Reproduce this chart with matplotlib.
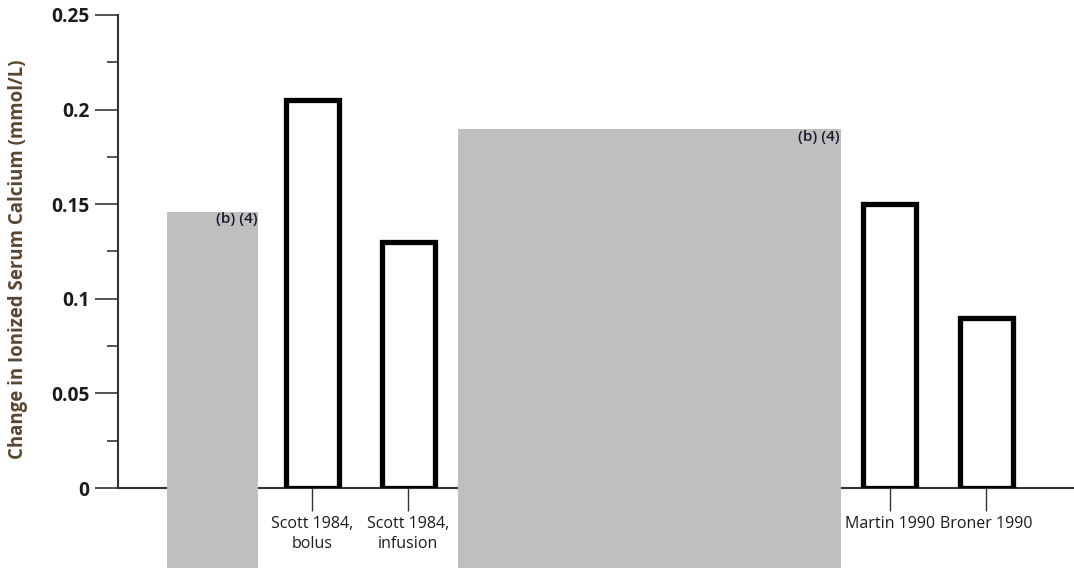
import matplotlib
matplotlib.use("Agg")
import matplotlib.pyplot as plt
from matplotlib.patches import Rectangle
import numpy as np

plt.rcParams['font.family'] = ['Open Sans', 'DejaVu Sans']

# ---- data ----
categories = ["", "Scott 1984,\nbolus", "Scott 1984,\ninfusion", "", "", "", "",
              "Martin 1990", "Broner 1990"]
values = [None, 0.205, 0.13, None, None, None, None, 0.15, 0.09]
y_ticks = [0, 0.05, 0.1, 0.15, 0.2, 0.25]
y_tick_labels = ["0", "0.05", "0.1", "0.15", "0.2", "0.25"]
y_label = "Change in Ionized Serum Calcium (mmol/L)"
redaction_text = "(b) (4)"

W, H = 1074, 571
fig = plt.figure(figsize=(W / 100, H / 100), dpi=100)
ax = fig.add_axes([118 / W, (H - 488) / H, (W - 118) / W, (488 - 15) / H])

x = np.arange(len(categories))
shown = [i for i, v in enumerate(values) if v is not None]
ax.bar([x[i] for i in shown], [values[i] for i in shown], width=0.55,
       color="white", edgecolor="black", linewidth=3.8, zorder=3)

ax.set_xlim(-1.015, 8.913)
ax.set_ylim(0, 0.25)

for s in ["top", "right"]:
    ax.spines[s].set_visible(False)
for s in ["left", "bottom"]:
    ax.spines[s].set_color("#333333")
    ax.spines[s].set_linewidth(1.5)

ax.set_yticks(y_ticks)
ax.set_yticklabels(y_tick_labels, fontsize=13.8, fontweight="bold", color="#1e1a17")
ax.set_yticks(np.arange(0.025, 0.25, 0.05), minor=True)
ax.tick_params(axis="y", which="major", length=16.5, width=1.2, color="#333333", pad=4)
ax.tick_params(axis="y", which="minor", length=8, width=1.2, color="#333333")

ax.set_xticks(x)
ax.set_xticklabels(categories, fontsize=11.5, color="#1e1a17", linespacing=1.3)
ax.tick_params(axis="x", which="major", length=16.5, width=1.0, color="#333333", pad=4)

fig.text(18 / W, 1 - 259 / H, y_label, rotation=90, ha="center", va="center",
         fontsize=13.4, fontweight="bold", color="#5a4630")

# redaction boxes (figure pixel coordinates: left, top, right, bottom)
boxes = [(166.7, 211.7, 258.3, 568), (458.3, 129, 841, 568)]
for (l, t, r, b) in boxes:
    fig.patches.append(Rectangle((l / W, 1 - b / H), (r - l) / W, (b - t) / H,
                                 transform=fig.transFigure, facecolor="#bfbfbf",
                                 edgecolor="none", zorder=5))
    fig.text((r - 1) / W, 1 - (t + 0.5) / H, redaction_text, ha="right", va="top",
             fontsize=11, fontweight="semibold", color="#1e1a2e", zorder=6)

fig.savefig("out.png", dpi=100)
